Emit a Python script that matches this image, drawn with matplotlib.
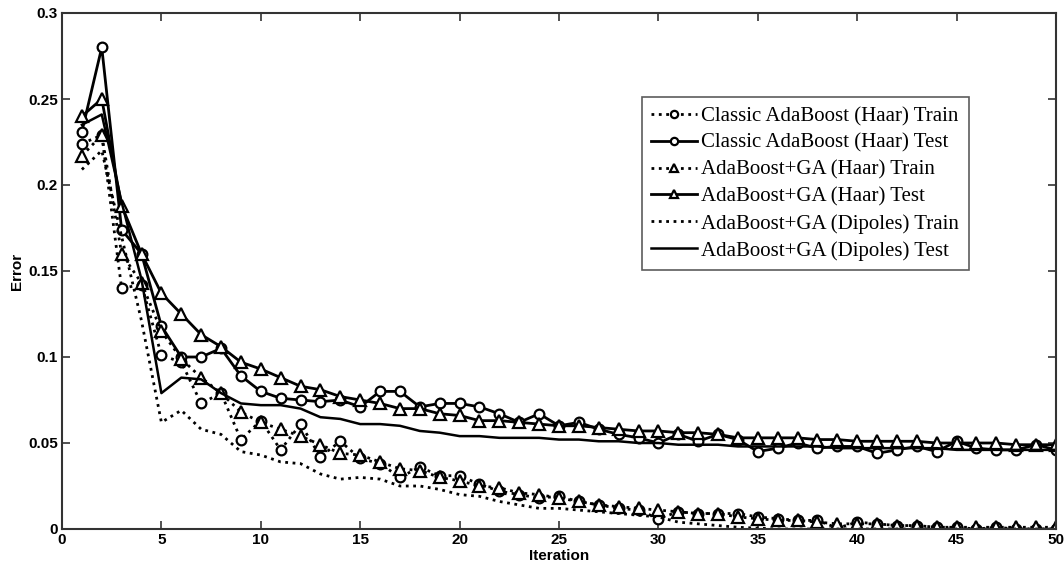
import numpy as np
import matplotlib
matplotlib.use("Agg")
import matplotlib.pyplot as plt
from matplotlib.ticker import FuncFormatter

# Iterations and the error curves
iterations = np.arange(1, 51)

classic_haar_train = [0.224, 0.229, 0.140, 0.142, 0.101, 0.097, 0.073, 0.079, 0.052, 0.063,
                      0.046, 0.061, 0.042, 0.051, 0.041, 0.038, 0.030, 0.036, 0.031, 0.031,
                      0.026, 0.022, 0.020, 0.018, 0.019, 0.016, 0.014, 0.012, 0.011, 0.006,
                      0.010, 0.009, 0.009, 0.009, 0.007, 0.006, 0.005, 0.005, 0.0005, 0.004,
                      0.003, 0.002, 0.002, 0.001, 0.001, 0.0, 0.001, 0.0, 0.0, 0.0]

classic_haar_test = [0.231, 0.280, 0.174, 0.160, 0.118, 0.100, 0.100, 0.105, 0.089, 0.080,
                     0.076, 0.075, 0.074, 0.075, 0.071, 0.080, 0.080, 0.071, 0.073, 0.073,
                     0.071, 0.067, 0.062, 0.067, 0.060, 0.062, 0.058, 0.055, 0.053, 0.050,
                     0.055, 0.051, 0.055, 0.052, 0.045, 0.047, 0.050, 0.047, 0.048, 0.048,
                     0.044, 0.046, 0.048, 0.045, 0.051, 0.047, 0.046, 0.046, 0.049, 0.046]

ga_haar_train = [0.217, 0.229, 0.160, 0.143, 0.115, 0.099, 0.088, 0.079, 0.068, 0.062,
                 0.058, 0.054, 0.049, 0.044, 0.043, 0.039, 0.035, 0.034, 0.030, 0.028,
                 0.025, 0.024, 0.021, 0.020, 0.018, 0.016, 0.014, 0.013, 0.012, 0.011,
                 0.010, 0.009, 0.009, 0.007, 0.006, 0.005, 0.005, 0.004, 0.003, 0.003,
                 0.003, 0.002, 0.002, 0.001, 0.001, 0.001, 0.001, 0.001, 0.001, 0.001]

ga_haar_test = [0.240, 0.250, 0.188, 0.160, 0.137, 0.125, 0.113, 0.106, 0.097, 0.093,
                0.088, 0.083, 0.081, 0.077, 0.075, 0.073, 0.070, 0.070, 0.067, 0.066,
                0.063, 0.063, 0.062, 0.061, 0.060, 0.060, 0.059, 0.058, 0.057, 0.057,
                0.056, 0.056, 0.055, 0.053, 0.053, 0.053, 0.053, 0.052, 0.052, 0.051,
                0.051, 0.051, 0.051, 0.050, 0.050, 0.050, 0.050, 0.049, 0.049, 0.049]

ga_dipoles_train = [0.209, 0.220, 0.170, 0.121, 0.062, 0.069, 0.058, 0.055, 0.045, 0.043,
                    0.039, 0.038, 0.032, 0.029, 0.030, 0.029, 0.025, 0.025, 0.023, 0.020,
                    0.019, 0.016, 0.014, 0.012, 0.012, 0.011, 0.010, 0.009, 0.008, 0.007,
                    0.004, 0.003, 0.002, 0.001, 0.0005, 0.0, 0.0, 0.0, 0.0, 0.0,
                    0.0, 0.0, 0.0, 0.0, 0.0, 0.0, 0.0, 0.0, 0.0, 0.0]

ga_dipoles_test = [0.235, 0.241, 0.190, 0.145, 0.079, 0.088, 0.087, 0.079, 0.073, 0.072,
                   0.072, 0.070, 0.065, 0.064, 0.061, 0.061, 0.060, 0.057, 0.056, 0.054,
                   0.054, 0.053, 0.053, 0.053, 0.052, 0.052, 0.051, 0.051, 0.050, 0.050,
                   0.049, 0.049, 0.049, 0.048, 0.048, 0.048, 0.048, 0.048, 0.047, 0.047,
                   0.047, 0.047, 0.047, 0.047, 0.046, 0.046, 0.046, 0.046, 0.046, 0.046]

labels = ["Classic AdaBoost (Haar) Train", "Classic AdaBoost (Haar) Test",
          "AdaBoost+GA (Haar) Train", "AdaBoost+GA (Haar) Test",
          "AdaBoost+GA (Dipoles) Train", "AdaBoost+GA (Dipoles) Test"]

sans = ["Liberation Sans Narrow", "Liberation Sans", "DejaVu Sans"]

fig = plt.figure(figsize=(10.64, 5.67), dpi=100)
ax = fig.add_axes([62 / 1064, 38 / 567, 994 / 1064, 516 / 567])

ax.plot(iterations, classic_haar_train, "k:", marker="o", mfc="white", ms=7, mew=1.6, lw=2, label=labels[0])
ax.plot(iterations, classic_haar_test, "k-", marker="o", mfc="white", ms=7, mew=1.6, lw=2, label=labels[1])
ax.plot(iterations, ga_haar_train, "k:", marker="^", mfc="white", ms=8, mew=1.6, lw=2, label=labels[2])
ax.plot(iterations, ga_haar_test, "k-", marker="^", mfc="white", ms=8, mew=1.6, lw=2, label=labels[3])
ax.plot(iterations, ga_dipoles_train, "k:", lw=2, label=labels[4])
ax.plot(iterations, ga_dipoles_test, "k-", lw=1.8, label=labels[5])

ax.set_xlim(0, 50)
ax.set_ylim(0, 0.3)
ax.set_xticks(np.arange(0, 51, 5))
ax.set_yticks(np.arange(0, 0.301, 0.05))
ax.yaxis.set_major_formatter(FuncFormatter(lambda v, p: "%g" % round(v, 2)))
ax.tick_params(direction="in", top=True, right=True, length=6, width=1.2,
               labelsize=11, pad=3, color="#333333")
for lab in ax.get_xticklabels() + ax.get_yticklabels():
    lab.set_family(sans)
    lab.set_fontweight("bold")
for sp in ax.spines.values():
    sp.set_linewidth(1.5)
    sp.set_color("#333333")

ax.set_xlabel("Iteration", family=sans, fontweight="bold", fontsize=11, labelpad=1)
ax.set_ylabel("Error", family=sans, fontweight="bold", fontsize=11, labelpad=3)

leg = ax.legend(loc="upper right", bbox_to_anchor=(0.912, 0.837), frameon=True, fancybox=False,
                prop={"family": ["Liberation Serif", "DejaVu Serif"], "size": 15},
                handlelength=2.2, handletextpad=0.2, labelspacing=0.35, borderpad=0.45,
                borderaxespad=0, markerscale=0.75)
leg.get_frame().set_edgecolor("#333333")
leg.get_frame().set_linewidth(1.2)

fig.savefig("out.png", dpi=100)
